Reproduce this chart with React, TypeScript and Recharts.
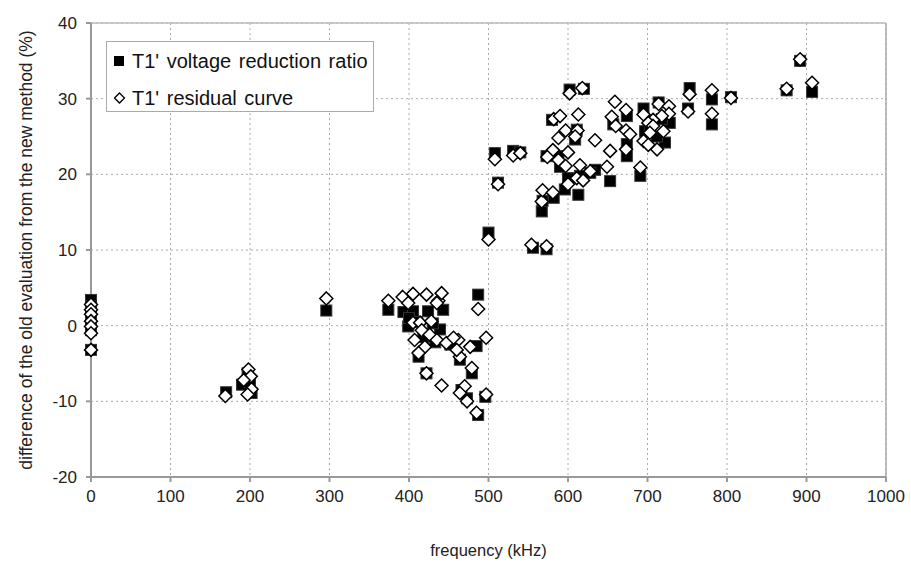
import {
  CartesianGrid,
  Legend,
  ReferenceLine,
  Scatter,
  ScatterChart,
  XAxis,
  YAxis,
} from "recharts";

// T1' voltage reduction ratio (filled squares)
const ratioFreq = [
  0, 0, 0, 0, 0, 0, 0,
  170, 190, 197, 200, 202,
  296,
  374, 393, 405, 424, 443, 487, 399, 412, 422, 464, 479, 466, 473, 487, 496, 439, 485, 452,
  400, 410, 430, 418, 433,
  500, 508, 512, 531, 556, 573, 567, 582, 596, 613, 602, 580, 588, 609, 611, 634, 653, 657,
  674, 674, 674, 573, 590, 600, 615, 620, 540, 568, 628,
  753, 781, 781, 751, 691, 695, 697, 722, 728, 712, 714, 805, 892, 875, 907, 703, 718,
];
const ratioValue = [
  3.4, 2.6, 1.8, 1.0, 0.2, -0.6, -3.2,
  -8.8, -7.8, -6.3, -7.5, -8.9,
  2.0,
  2.1, 1.8, 1.9, 1.9, 2.1, 4.1, -0.1, -4.1, -6.3, -4.5, -6.3, -8.5, -9.6, -11.8, -9.4, -0.5, -2.7, -2.5,
  1.0, 0.5, 0.3, -1.5, -2.2,
  12.3, 22.8, 18.9, 23.1, 10.3, 10.1, 15.1, 16.9, 18.0, 17.3, 31.2, 27.2, 22.4, 24.6, 25.9, 20.6, 19.1, 26.6,
  27.7, 22.4, 24.0, 22.4, 21.0, 19.5, 19.8, 31.3, 22.9, 16.5, 20.2,
  31.4, 29.9, 26.6, 28.7, 19.8, 28.7, 25.7, 24.2, 26.8, 25.0, 29.5, 30.2, 35.0, 31.1, 30.9, 26.0, 27.3,
];

// T1' residual curve (open diamonds)
const residualFreq = [
  0, 0, 0, 0, 0, 0, 0,
  169, 198, 201, 192, 202, 197,
  296,
  374, 392, 405, 422, 437, 441, 399, 435, 487, 405, 414, 428, 416, 426, 407, 435, 420, 447, 462, 477,
  497, 412, 464, 479, 422, 441, 470, 464, 473, 497, 485, 460, 456,
  508, 512, 500, 531, 540, 554, 573, 567, 568, 581, 602, 618, 582, 590, 613, 588, 597, 612, 609,
  581, 600, 574, 588, 597, 615, 628, 611, 619, 600, 634, 653, 649, 659, 655, 660, 673, 673, 673, 678,
  753, 781, 781, 805, 751, 691, 695, 714, 727, 727, 718, 707, 701, 707, 720, 703, 695, 712, 701,
  892, 875, 907,
];
const residualValue = [
  2.8, 2.1, 1.5, 0.6, -0.1, -1.0, -3.2,
  -9.3, -5.8, -6.7, -7.2, -8.4, -9.1,
  3.6,
  3.3, 3.8, 4.2, 4.1, 3.3, 4.3, 3.0, 3.0, 2.2, 0.4, 0.4, 0.6, -0.6, -1.2, -1.9, -1.9, -2.8, -2.3, -1.9, -2.8,
  -1.6, -3.6, -4.1, -5.6, -6.3, -7.9, -8.0, -8.9, -10.0, -9.1, -11.5, -3.2, -1.6,
  22.0, 18.7, 11.4, 22.5, 22.8, 10.7, 10.5, 16.4, 17.9, 17.6, 30.7, 31.4, 27.3, 27.7, 27.9, 24.8, 25.8, 25.8, 25.0,
  23.2, 22.9, 22.3, 21.9, 21.1, 21.2, 20.4, 19.5, 19.2, 18.7, 24.5, 23.1, 21.0, 29.6, 27.6, 26.4, 28.5, 25.8, 23.3, 25.3,
  30.6, 31.1, 28.0, 30.1, 28.3, 20.9, 27.9, 29.3, 29.0, 28.0, 27.7, 27.2, 26.8, 26.4, 25.7, 25.5, 24.4, 23.3, 23.9,
  35.2, 31.3, 32.1,
];

const xTicks = [0, 100, 200, 300, 400, 500, 600, 700, 800, 900, 1000];
const yTicks = [-20, -10, 0, 10, 20, 30, 40];

const ratioData = ratioFreq.map((f, i) => ({ f, v: ratioValue[i] }));
const residualData = residualFreq.map((f, i) => ({ f, v: residualValue[i] }));

const FONT = "'Liberation Sans', Arial, sans-serif";

function SquareShape(props: any) {
  const { cx, cy } = props;
  return <rect x={cx - 5.5} y={cy - 5.5} width={11} height={11} fill="#000" stroke="#333" strokeWidth={1} />;
}

function DiamondShape(props: any) {
  const { cx, cy } = props;
  const r = 6.5;
  return (
    <path
      d={`M${cx},${cy - r}L${cx + r},${cy}L${cx},${cy + r}L${cx - r},${cy}Z`}
      fill="#fff"
      stroke="#000"
      strokeWidth={1.5}
    />
  );
}

function LegendBox() {
  return (
    <div
      style={{
        border: "1px solid #aaa",
        background: "#fff",
        width: 268,
        height: 71,
        boxSizing: "border-box",
        fontFamily: FONT,
        fontSize: 20,
        wordSpacing: 2,
        color: "#111",
        padding: "5px 0 0 7px",
        lineHeight: "24px",
      }}
    >
      <div style={{ display: "flex", alignItems: "center", height: 28 }}>
        <svg width={10} height={10} style={{ marginRight: 8 }}>
          <rect x={0} y={0} width={10} height={10} fill="#000" />
        </svg>
        <span>T1' voltage reduction ratio</span>
      </div>
      <div style={{ display: "flex", alignItems: "center", height: 28, marginTop: 9 }}>
        <svg width={12} height={12} style={{ marginRight: 6 }}>
          <path d="M5.5,1L10.5,6L5.5,11L0.5,6Z" fill="#fff" stroke="#000" strokeWidth={1.3} />
        </svg>
        <span>T1' residual curve</span>
      </div>
    </div>
  );
}

export default function App() {
  return (
    <div style={{ position: "absolute", left: 0, top: 0, width: 911, height: 565, background: "#fff" }}>
      <ScatterChart width={911} height={565} margin={{ top: 23, right: 25, bottom: 0, left: 0 }}>
        <CartesianGrid stroke="#aaa" strokeDasharray="2 3" />
        <XAxis
          type="number"
          dataKey="f"
          domain={[0, 1000]}
          ticks={xTicks}
          height={88}
          tickSize={5}
          tickMargin={8}
          stroke="#999"
          strokeWidth={2}
          tick={{ fill: "#222", fontSize: 17, fontFamily: FONT }}
          label={{
            value: "frequency (kHz)",
            position: "insideBottom",
            offset: 9,
            style: { fill: "#222", fontSize: 16.5, fontFamily: FONT },
          }}
        />
        <YAxis
          type="number"
          dataKey="v"
          domain={[-20, 40]}
          ticks={yTicks}
          width={91}
          tickSize={5}
          tickMargin={9}
          stroke="#999"
          strokeWidth={2}
          tick={{ fill: "#222", fontSize: 17, fontFamily: FONT }}
          label={{
            value: "difference of the old evaluation from the new method (%)",
            angle: -90,
            position: "insideLeft",
            offset: 26,
            style: { fill: "#222", fontSize: 17.5, fontFamily: FONT, textAnchor: "middle" },
          }}
        />
        <ReferenceLine x={1000} stroke="#aaa" strokeWidth={1.5} />
        <ReferenceLine y={40} stroke="#bbb" strokeWidth={1.5} />
        <Legend
          layout="horizontal"
          verticalAlign="middle"
          align="center"
          wrapperStyle={{ position: "absolute", left: 106, top: 41, width: 268, height: 71 }}
          content={() => <LegendBox />}
        />
        <Scatter name="T1' voltage reduction ratio" data={ratioData} shape={SquareShape} isAnimationActive={false} />
        <Scatter name="T1' residual curve" data={residualData} shape={DiamondShape} isAnimationActive={false} />
      </ScatterChart>
    </div>
  );
}
